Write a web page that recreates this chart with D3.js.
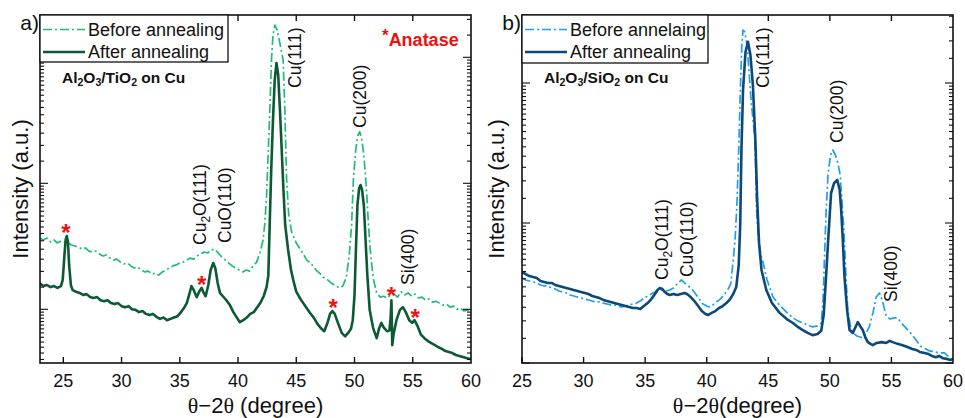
<!DOCTYPE html>
<html>
<head>
<meta charset="utf-8">
<script src="https://cdn.jsdelivr.net/npm/d3@7"></script>
<style>
  html, body { margin: 0; padding: 0; background: #fff; }
  svg { display: block; font-family: "Liberation Sans", Arial, sans-serif; }
</style>
</head>
<body>
<svg id="chart" width="965" height="418"></svg>
<script>
// ---- axis ticks ----
const xTickValues = [25, 30, 35, 40, 45, 50, 55, 60];
const yMajorValues = [100, 1000, 10000];
const yMinorSteps = [1.5, 2, 2.5, 3, 3.5, 4, 4.5, 5, 5.5, 6, 6.5, 7, 7.5, 8, 8.5, 9, 9.5];

// ---- (a) Al2O3/TiO2 on Cu : [2theta, intensity] ----
const tio2Before = [
  [23.0,368],[23.3,355],[23.6,368],[23.9,342],[24.2,355],[24.5,336],[24.8,349],[25.1,342],[25.4,336],
  [25.7,324],[26.0,318],[26.3,312],[26.6,301],[26.9,307],[27.2,290],[27.5,285],[27.8,290],[28.1,275],
  [28.4,265],[28.7,270],[29.0,255],[29.3,246],[29.6,250],[29.9,237],[30.2,229],[30.5,233],[30.8,221],
  [31.1,213],[31.4,217],[31.7,205],[32.0,198],[32.3,201],[32.6,190],[32.9,194],[33.2,187],[33.5,198],
  [33.8,205],[34.1,213],[34.4,221],[34.7,225],[35.0,233],[35.3,237],[35.6,246],[35.9,255],[36.2,250],
  [36.5,265],[36.8,275],[37.1,285],[37.4,280],[37.7,296],[38.0,301],[38.3,280],[38.6,260],[38.9,246],
  [39.2,233],[39.5,221],[39.8,213],[40.1,205],[40.4,198],[40.7,205],[41.0,201],[41.3,221],[41.6,237],
  [41.9,285],[42.15,355],[42.3,480],[42.45,800],[42.6,1837],[42.73,3817],[42.87,9520],[43.0,15030],
  [43.16,18040],[43.35,16480],[43.59,12990],[43.87,9520],[44.02,3817],[44.16,1124],[44.35,560],
  [44.6,411],[45.0,336],[45.5,285],[45.9,246],[46.3,229],[46.7,205],[47.0,194],[47.3,180],[47.7,171],
  [48.0,162],[48.4,153],[48.7,148],[49.0,153],[49.3,180],[49.55,270],[49.75,467],[49.9,1062],
  [50.1,1837],[50.3,2418],[50.45,2567],[50.6,2290],[50.8,1677],[51.0,969],[51.2,467],[51.35,296],
  [51.6,177],[51.9,135],[52.2,125],[52.5,127],[52.8,123],[53.1,130],[53.4,132],[53.7,125],[54.0,138],
  [54.3,130],[54.6,135],[54.9,127],[55.2,132],[55.5,123],[55.8,125],[56.1,118],[56.4,121],[56.7,114],
  [57.0,116],[57.3,112],[57.6,108],[57.9,110],[58.2,104],[58.5,106],[58.8,100],[59.1,102],[59.4,97],
  [59.7,99],[60.0,95]
];
const tio2After = [
  [23.0,160],[23.3,153],[23.6,156],[23.9,150],[24.2,153],[24.5,148],[24.8,153],[24.95,171],[25.1,270],
  [25.2,355],[25.3,382],[25.4,342],[25.5,225],[25.65,156],[25.8,142],[26.1,138],[26.4,135],[26.7,130],
  [27.0,132],[27.3,125],[27.6,123],[27.9,125],[28.2,118],[28.5,116],[28.8,118],[29.1,112],[29.4,110],
  [29.7,112],[30.0,106],[30.3,104],[30.6,106],[30.9,100],[31.2,99],[31.5,95],[31.8,97],[32.1,92],
  [32.4,90],[32.7,92],[33.0,87],[33.3,84],[33.6,86],[33.9,82],[34.2,84],[34.5,86],[34.8,88],[35.1,95],
  [35.4,104],[35.6,112],[35.8,130],[36.0,153],[36.2,142],[36.45,125],[36.7,140],[36.87,148],[37.05,135],
  [37.22,127],[37.45,156],[37.65,205],[37.87,233],[38.05,212],[38.25,162],[38.45,135],[38.7,127],
  [39.0,118],[39.3,108],[39.6,95],[39.9,86],[40.16,79],[40.45,82],[40.75,86],[41.05,92],[41.35,95],
  [41.65,104],[41.95,114],[42.2,127],[42.45,150],[42.6,185],[42.73,511],[42.85,1276],[43.0,3180],
  [43.15,6600],[43.3,9010],[43.45,7240],[43.6,3817],[43.75,1837],[43.9,885],[44.05,467],[44.3,296],
  [44.55,205],[44.8,162],[45.0,138],[45.3,123],[45.6,112],[45.9,102],[46.2,93],[46.5,86],[46.8,77],
  [47.1,71],[47.4,67],[47.7,79],[47.9,92],[48.1,97],[48.3,92],[48.6,77],[48.9,65],[49.2,61],[49.5,66],
  [49.7,70],[49.85,82],[50.0,130],[50.12,296],[50.25,673],[50.4,918],[50.52,969],[50.65,885],[50.8,673],
  [50.95,355],[51.1,187],[51.3,99],[51.6,71],[51.9,59],[52.1,70],[52.3,78],[52.5,72],[52.8,67],[53.0,68],
  [53.1,86],[53.17,118],[53.24,52],[53.35,63],[53.6,82],[53.9,99],[54.15,104],[54.4,95],[54.7,82],
  [54.95,78],[55.15,82],[55.4,74],[55.7,63],[56.0,59],[56.3,56],[56.6,54],[56.9,52],[57.2,50],
  [57.5,48.5],[57.8,46.6],[58.1,45.8],[58.4,45],[58.7,43.4],[59.0,42.6],[59.3,41.8],[59.6,41],
  [59.9,40.3],[60.0,40.8]
];

// ---- (b) Al2O3/SiO2 on Cu : [2theta, intensity] ----
const sio2Before = [
  [25.0,405],[25.3,392],[25.6,385],[25.9,379],[26.2,373],[26.5,361],[26.8,355],[27.1,355],[27.4,343],
  [27.7,338],[28.0,327],[28.3,321],[28.6,316],[28.9,306],[29.2,301],[29.5,296],[29.8,291],[30.1,286],
  [30.4,282],[30.7,277],[31.0,273],[31.3,273],[31.6,268],[31.9,264],[32.2,260],[32.5,260],[32.8,255],
  [33.1,251],[33.4,255],[33.7,260],[34.0,264],[34.3,268],[34.6,277],[34.9,291],[35.2,301],[35.5,311],
  [35.8,321],[36.1,332],[36.4,332],[36.7,327],[37.0,332],[37.3,343],[37.6,367],[37.95,392],[38.2,373],
  [38.5,355],[38.8,338],[39.1,311],[39.4,286],[39.7,264],[40.0,255],[40.25,251],[40.5,260],[40.8,273],
  [41.1,286],[41.4,306],[41.7,332],[41.95,367],[42.14,527],[42.3,756],[42.45,1345],[42.6,3322],
  [42.72,8205],[42.85,18680],[42.95,23910],[43.1,23130],[43.3,17780],[43.6,7565],[43.92,3917],
  [44.05,1239],[44.2,756],[44.4,591],[44.57,527],[44.9,392],[45.38,296],[45.9,260],[46.46,232],
  [47.0,210],[47.4,200],[47.8,193],[48.2,187],[48.6,181],[49.0,184],[49.3,193],[49.45,282],[49.57,591],
  [49.7,1239],[49.85,2203],[50.05,3060],[50.24,3322],[50.45,3060],[50.65,2683],[50.84,2203],[51.0,1345],
  [51.1,1000],[51.19,718],[51.32,392],[51.46,239],[51.65,187],[51.86,164],[52.2,156],[52.67,151],
  [52.95,164],[53.2,181],[53.5,228],[53.76,296],[54.03,316],[54.25,282],[54.57,217],[54.9,206],
  [55.2,210],[55.5,210],[55.8,193],[56.1,181],[56.4,170],[56.7,158],[57.0,146],[57.4,131],[57.8,126],
  [58.1,122],[58.5,120],[58.9,118],[59.3,118],[59.6,112],[60.0,105]
];
const sio2After = [
  [25.0,447],[25.3,432],[25.6,418],[25.9,411],[26.2,405],[26.5,385],[26.8,379],[27.1,373],[27.4,373],
  [27.7,361],[28.0,355],[28.3,349],[28.6,343],[28.9,338],[29.2,332],[29.5,327],[29.8,321],[30.1,316],
  [30.4,311],[30.7,301],[31.0,296],[31.3,291],[31.6,282],[31.9,277],[32.2,273],[32.5,268],[32.8,264],
  [33.1,260],[33.4,255],[33.7,251],[34.0,247],[34.3,247],[34.6,243],[34.9,255],[35.2,268],[35.5,286],
  [35.8,311],[36.0,332],[36.2,343],[36.4,338],[36.6,321],[36.8,311],[37.0,306],[37.3,311],[37.6,306],
  [37.9,311],[38.2,316],[38.4,311],[38.7,296],[39.0,277],[39.3,255],[39.6,235],[39.9,224],[40.1,220],
  [40.4,228],[40.7,235],[41.0,247],[41.3,255],[41.6,268],[41.9,286],[42.15,311],[42.4,349],[42.6,501],
  [42.72,968],[42.82,3322],[42.95,8913],[43.15,16650],[43.35,19720],[43.55,15850],[43.75,9680],
  [43.95,3917],[44.1,1460],[44.25,718],[44.45,462],[44.84,332],[45.3,268],[45.92,228],[46.5,206],
  [47.0,193],[47.4,181],[47.8,172],[48.2,164],[48.6,158],[49.0,161],[49.3,170],[49.5,220],[49.7,425],
  [49.85,720],[50.1,1638],[50.35,1931],[50.6,2029],[50.8,1720],[50.92,1239],[51.05,756],[51.19,412],
  [51.4,239],[51.6,172],[51.86,164],[52.05,178],[52.27,196],[52.45,184],[52.67,172],[52.9,151],
  [53.08,141],[53.3,137],[53.49,134],[53.8,139],[54.2,141],[54.57,139],[54.85,144],[55.1,141],
  [55.5,137],[55.9,134],[56.3,130],[56.7,126],[57.0,124],[57.3,120],[57.7,118],[58.0,116],[58.3,112],
  [58.6,110],[58.9,112],[59.2,108],[59.5,107],[59.8,105],[60.0,107]
];

// ---- reflection labels: parts, 2theta anchor, intensity anchor ----
const tio2PeakLabels = [
  { parts: [["Cu(111)"]], t: 45.43, v: 5705 },
  { parts: [["Cu(200)"]], t: 51.0, v: 2748 },
  { parts: [["Cu"], ["2", "sub"], ["O(111)"]], t: 37.28, v: 324 },
  { parts: [["CuO(110)"]], t: 39.43, v: 336 },
  { parts: [["Si(400)"]], t: 55.13, v: 156 }
];
const sio2PeakLabels = [
  { parts: [["Cu(111)"]], t: 45.07, v: 9205 },
  { parts: [["Cu(200)"]], t: 51.07, v: 3728 },
  { parts: [["Cu"], ["2", "sub"], ["O(111)"]], t: 36.84, v: 392 },
  { parts: [["CuO(110)"]], t: 38.9, v: 411 },
  { parts: [["Si(400)"]], t: 55.49, v: 273 }
];
// anatase reflections marked with a red asterisk
const anatasePeaks = [[25.23, 439], [36.87, 171], [48.16, 111.6], [53.17, 140.5], [55.2, 94]];

const svg = d3.select("#chart");
const defs = svg.append("defs");

const panels = [
  {
    id: "a", tag: "a)", left: 40, right: 471, top: 15, bottom: 363,
    xDomain: [23, 60], yDomain: [37.5, 21660],
    before: tio2Before, after: tio2After,
    beforeColor: "#22bb7a", afterColor: "#0b5a33",
    legend: ["Before annealing", "After annealing"], legendW: 188, legendH: 47,
    sample: [["Al"], ["2", "sub"], ["O"], ["3", "sub"], ["/TiO"], ["2", "sub"], [" on Cu"]],
    peaks: tio2PeakLabels, stars: anatasePeaks,
    xTitle: "θ−2θ (degree)", yTitleX: 28
  },
  {
    id: "b", tag: "b)", left: 522, right: 953, top: 15, bottom: 363,
    xDomain: [25, 60], yDomain: [100, 30600],
    before: sio2Before, after: sio2After,
    beforeColor: "#1f9fe8", afterColor: "#0c4878",
    legend: ["Before annelaing", "After annealing"], legendW: 186, legendH: 48,
    sample: [["Al"], ["2", "sub"], ["O"], ["3", "sub"], ["/SiO"], ["2", "sub"], [" on Cu"]],
    peaks: sio2PeakLabels, stars: [],
    xTitle: "θ−2θ(degree)", yTitleX: 504
  }
];

// writes text made of plain and subscript pieces into a <text> element
function addParts(textSel, parts, fontSize) {
  const drop = fontSize * 0.22;
  let lowered = false;
  parts.forEach(p => {
    const sub = p[1] === "sub";
    let dy = 0;
    if (sub && !lowered) { dy = drop; lowered = true; }
    else if (!sub && lowered) { dy = -drop; lowered = false; }
    textSel.append("tspan")
      .attr("font-size", sub ? fontSize * 0.68 : fontSize)
      .attr("dy", dy)
      .text(p[0]);
  });
}

// writes the theta-2theta title with serif thetas
function addTitle(textSel, str) {
  str.split(/(θ)/).filter(s => s.length).forEach(s => {
    const t = textSel.append("tspan").text(s);
    if (s === "θ") t.attr("font-family", "'Liberation Serif', serif");
  });
}

panels.forEach(p => {
  const x = d3.scaleLinear().domain(p.xDomain).range([p.left, p.right]);
  const y = d3.scaleLog().domain(p.yDomain).range([p.bottom, p.top]);
  const g = svg.append("g");

  defs.append("clipPath").attr("id", "clip-" + p.id)
    .append("rect").attr("x", p.left).attr("y", p.top)
    .attr("width", p.right - p.left).attr("height", p.bottom - p.top);

  const line = d3.line().x(d => x(d[0])).y(d => y(d[1]));
  const curves = g.append("g").attr("clip-path", `url(#clip-${p.id})`);
  curves.append("path").datum(p.before)
    .attr("d", line).attr("fill", "none")
    .attr("stroke", p.beforeColor).attr("stroke-width", 1.7)
    .attr("stroke-dasharray", "9,3,2,3").attr("stroke-linejoin", "round");
  curves.append("path").datum(p.after)
    .attr("d", line).attr("fill", "none")
    .attr("stroke", p.afterColor).attr("stroke-width", 2.6)
    .attr("stroke-linejoin", "round");

  // frame
  g.append("rect").attr("x", p.left).attr("y", p.top)
    .attr("width", p.right - p.left).attr("height", p.bottom - p.top)
    .attr("fill", "none").attr("stroke", "#111").attr("stroke-width", 1.6);

  // x ticks, bottom and top, pointing inward
  const xt = xTickValues.filter(v => v >= p.xDomain[0] && v < p.xDomain[1]);
  xt.forEach(v => {
    g.append("line").attr("x1", x(v)).attr("x2", x(v))
      .attr("y1", p.bottom).attr("y2", p.bottom - 6).attr("stroke", "#111").attr("stroke-width", 1.4);
    g.append("line").attr("x1", x(v)).attr("x2", x(v))
      .attr("y1", p.top).attr("y2", p.top + 6).attr("stroke", "#111").attr("stroke-width", 1.4);
  });
  g.selectAll(".xl").data(xTickValues.filter(v => v >= p.xDomain[0] && v <= p.xDomain[1]))
    .enter().append("text")
    .attr("x", d => x(d)).attr("y", 387)
    .attr("text-anchor", "middle").attr("font-size", 18).attr("fill", "#111")
    .text(d => d);

  // log y ticks, left and right, pointing inward
  const [lo, hi] = y.domain();
  const majors = yMajorValues.filter(v => v >= lo && v <= hi);
  const minors = [];
  [10, 100, 1000, 10000].forEach(dec => yMinorSteps.forEach(m => {
    const v = dec * m;
    if (v > lo && v < hi) minors.push(v);
  }));
  const yTick = (v, len) => {
    g.append("line").attr("x1", p.left).attr("x2", p.left + len)
      .attr("y1", y(v)).attr("y2", y(v)).attr("stroke", "#111").attr("stroke-width", 1.1);
    g.append("line").attr("x1", p.right).attr("x2", p.right - len)
      .attr("y1", y(v)).attr("y2", y(v)).attr("stroke", "#111").attr("stroke-width", 1.1);
  };
  majors.forEach(v => yTick(v, 8));
  minors.forEach(v => yTick(v, 4));

  // axis titles
  const xtl = g.append("text").attr("x", (p.left + p.right) / 2).attr("y", 413)
    .attr("text-anchor", "middle").attr("font-size", 22).attr("fill", "#111");
  addTitle(xtl, p.xTitle);
  g.append("text")
    .attr("transform", `translate(${p.yTitleX},${(p.top + p.bottom) / 2}) rotate(-90)`)
    .attr("text-anchor", "middle").attr("font-size", 22).attr("fill", "#111")
    .text("Intensity (a.u.)");

  // panel tag
  g.append("text").attr("x", p.left - 1).attr("y", 30).attr("text-anchor", "end")
    .attr("font-size", 21).attr("fill", "#111").text(p.tag);

  // reflection labels, reading upward
  p.peaks.forEach(lb => {
    const t = g.append("text")
      .attr("transform", `translate(${x(lb.t)},${y(lb.v)}) rotate(-90)`)
      .attr("font-size", 17.5).attr("fill", "#111");
    addParts(t, lb.parts, 17.5);
  });

  // anatase markers
  p.stars.forEach(s => {
    g.append("text").attr("x", x(s[0])).attr("y", y(s[1]) + 13)
      .attr("text-anchor", "middle").attr("font-size", 24).attr("font-weight", "bold")
      .attr("fill", "#f01010").text("*");
  });

  // legend
  const lg = g.append("g");
  lg.append("rect").attr("x", p.left).attr("y", p.top)
    .attr("width", p.legendW).attr("height", p.legendH)
    .attr("fill", "#fff").attr("stroke", "#111").attr("stroke-width", 1.3);
  const rows = [
    { label: p.legend[0], color: p.beforeColor, w: 1.7, dash: "9,3,2,3", cy: p.top + 14.5 },
    { label: p.legend[1], color: p.afterColor, w: 2.6, dash: null, cy: p.top + 37 }
  ];
  rows.forEach(r => {
    lg.append("line").attr("x1", p.left + 3).attr("x2", p.left + 45)
      .attr("y1", r.cy).attr("y2", r.cy).attr("stroke", r.color)
      .attr("stroke-width", r.w).attr("stroke-dasharray", r.dash);
    lg.append("text").attr("x", p.left + 48).attr("y", r.cy + 6.3)
      .attr("font-size", 18).attr("fill", "#111").text(r.label);
  });

  // sample name
  const st = g.append("text").attr("x", p.left + 22).attr("y", 83)
    .attr("font-size", 15.5).attr("font-weight", "bold").attr("fill", "#111");
  addParts(st, p.sample, 15.5);

  if (p.id === "a") {
    const an = g.append("text").attr("x", 382).attr("y", 46)
      .attr("font-weight", "bold").attr("fill", "#f01010");
    an.append("tspan").attr("font-size", 17).attr("dy", -5).text("*");
    an.append("tspan").attr("font-size", 18).attr("dy", 5).text("Anatase");
  }
});
</script>
</body>
</html>
